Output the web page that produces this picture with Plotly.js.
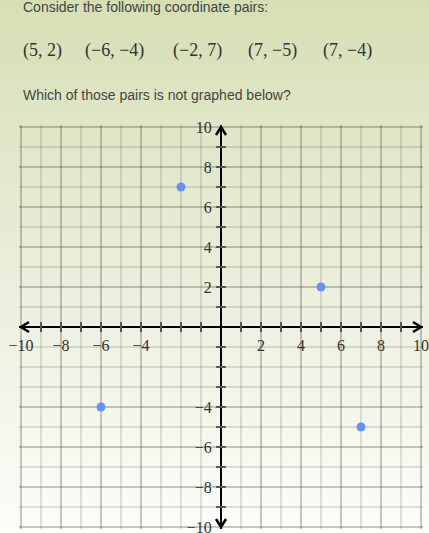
<!DOCTYPE html>
<html>
<head>
<meta charset="utf-8">
<script src="https://cdn.plot.ly/plotly-3.0.1.min.js"></script>
<style>
html, body { margin: 0; padding: 0; }
body { width: 429px; height: 533px; overflow: hidden;
  background: linear-gradient(to bottom, #d6dfb4 0%, #e8ecd7 45%, #fdfdfa 100%); }
#chart { width: 429px; height: 533px; }
</style>
</head>
<body>
<div id="chart"></div>
<script>
// ---- data ----
const pointsX = [5, -6, -2, 7];
const pointsY = [2, -4, 7, -5];
const pairLabels = ["(5, 2)", "(\u22126, \u22124)", "(\u22122, 7)", "(7, \u22125)", "(7, \u22124)"];
const xLabelVals = [-10, -8, -6, -4, 2, 4, 6, 8, 10];
const xLabelText = ["\u221210", "\u22128", "\u22126", "\u22124", "2", "4", "6", "8", "10"];
const yLabelVals = [-10, -8, -6, -4, 2, 4, 6, 8, 10];
const yLabelText = ["\u221210", "\u22128", "\u22126", "\u22124", "2", "4", "6", "8", "10"];
const tickMarks = [-9, -8, -7, -6, -5, -4, -3, -2, -1, 1, 2, 3, 4, 5, 6, 7, 8, 9];
const axisRange = [-10.1, 10.1];
const headline = "Consider the following coordinate pairs:";
const question = "Which of those pairs is not graphed below?";

// ---- layout helpers (pixel -> paper) ----
const W = 429, H = 533, ML = 19, MR = 6, MT = 125, MB = 4;
const PW = W - ML - MR, PH = H - MT - MB;
const px = v => (v - ML) / PW;
const py = v => (H - MB - v) / PH;

const gridColor = "rgba(60,60,40,0.15)";
const serif = "Liberation Serif, DejaVu Serif, serif";
const sans = "Liberation Sans, Arial, sans-serif";

const zeros = tickMarks.map(() => 0);

const traces = [
  { x: tickMarks, y: zeros, mode: "markers", type: "scatter", hoverinfo: "skip",
    marker: { symbol: "line-ns", size: 7, line: { width: 2, color: "#555" } }, cliponaxis: false },
  { x: zeros, y: tickMarks, mode: "markers", type: "scatter", hoverinfo: "skip",
    marker: { symbol: "line-ew", size: 7, line: { width: 2, color: "#555" } }, cliponaxis: false },
  { x: pointsX, y: pointsY, mode: "markers", type: "scatter",
    marker: { color: "#6495ed", size: 9 }, cliponaxis: false }
];

const axisCommon = {
  range: axisRange, fixedrange: true, showline: false,
  ticks: "outside", tickcolor: "rgba(0,0,0,0)",
  showgrid: true, gridcolor: gridColor, gridwidth: 2,
  minor: { tickmode: "linear", tick0: 0, dtick: 1, showgrid: true, gridcolor: gridColor, gridwidth: 2, ticks: "" },
  zeroline: true, zerolinecolor: "#000", zerolinewidth: 2,
  anchor: "free", position: 0.5,
  ticklabeloverflow: "allow",
  tickfont: { family: serif, size: 16, color: "#333" },
  tickmode: "array"
};

const shapesArrow = [
  "M9.6,0.25 L10,0 L9.6,-0.25",
  "M-9.6,0.25 L-10,0 L-9.6,-0.25",
  "M-0.25,9.6 L0,10 L0.25,9.6",
  "M-0.25,-9.6 L0,-10 L0.25,-9.6"
].map(p => ({ type: "path", xref: "x", yref: "y", path: p, line: { color: "#000", width: 2.5 } }));

const annotations = [
  { text: headline, xref: "paper", yref: "paper", x: px(21), y: py(7), xanchor: "left", yanchor: "middle",
    showarrow: false, font: { family: sans, size: 14, color: "#444" } },
  { text: question, xref: "paper", yref: "paper", x: px(21), y: py(95), xanchor: "left", yanchor: "middle",
    showarrow: false, font: { family: sans, size: 14, color: "#444" } }
];
const pairLeft = [21, 83, 171, 246, 321];
pairLabels.forEach((t, i) => annotations.push({
  text: t, xref: "paper", yref: "paper", x: px(pairLeft[i]), y: py(50), xanchor: "left", yanchor: "middle",
  showarrow: false, font: { family: serif, size: 18, color: "#333" }
}));

const layout = {
  width: W, height: H,
  margin: { l: ML, r: MR, t: MT, b: MB, pad: 0 },
  paper_bgcolor: "rgba(0,0,0,0)", plot_bgcolor: "rgba(0,0,0,0)",
  showlegend: false,
  xaxis: Object.assign({}, axisCommon, { tickvals: xLabelVals, ticktext: xLabelText, ticklen: 4 }),
  yaxis: Object.assign({}, axisCommon, { tickvals: yLabelVals, ticktext: yLabelText, ticklen: 6 }),
  shapes: shapesArrow,
  annotations: annotations
};

Plotly.newPlot("chart", traces, layout, { staticPlot: true, displayModeBar: false });
</script>
</body>
</html>
